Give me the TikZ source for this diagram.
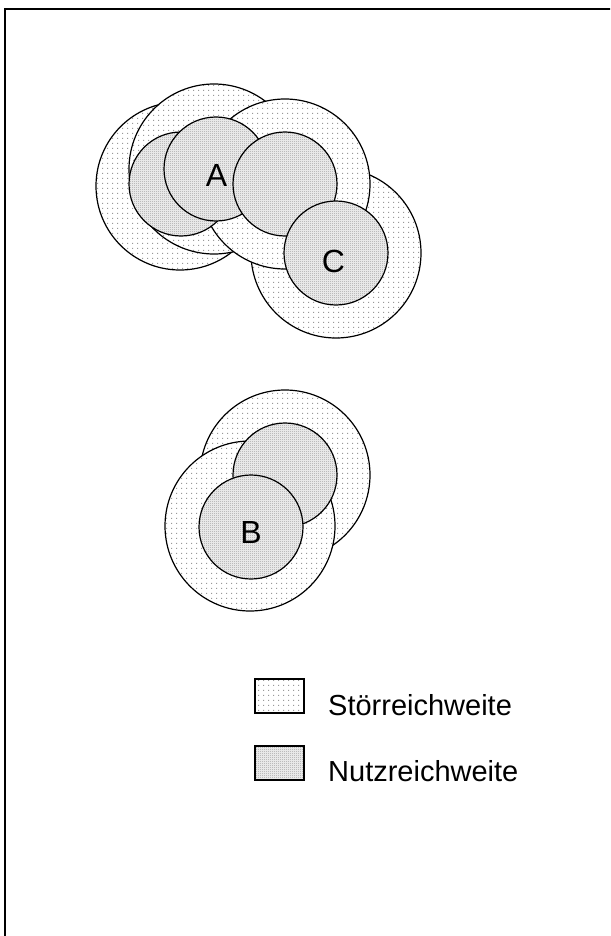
\documentclass[tikz,border=0pt]{standalone}
\usepackage{fontspec}
\setmainfont{Liberation Sans}
\usetikzlibrary{patterns.meta}

% sparse grey dot grid for the interference range
\tikzdeclarepattern{
  name=stoerdots,
  bottom left={(0pt,0pt)},
  top right={(4.6pt,4.6pt)},
  tile size={(4.6pt,4.6pt)},
  code={\fill (0pt,0pt) rectangle (1.3pt,1.3pt);}
}
% dense dot grid for the usable range
\tikzdeclarepattern{
  name=nutzdots,
  bottom left={(0pt,0pt)},
  top right={(2pt,2pt)},
  tile size={(2pt,2pt)},
  code={\fill (0pt,0pt) rectangle (1pt,1pt);}
}

\tikzset{
  stoer/.style={draw=black, line width=1.2pt, preaction={fill=white},
                pattern=stoerdots, pattern color=black!40},
  nutz/.style={draw=black, line width=1.2pt, preaction={fill=black!9},
                pattern=nutzdots, pattern color=black!50},
  label/.style={inner sep=0pt, font=\fontsize{32}{38}\selectfont},
  legtext/.style={inner sep=0pt, anchor=base west, font=\fontsize{29}{34}\selectfont},
  legbox/.style={line width=1.6pt}
}

\begin{document}
\begin{tikzpicture}[x=1pt, y=-1pt]
  \useasboundingbox (0,0) rectangle (610,936);
  \clip (0,0) rectangle (610,936);
  \fill[white] (0,0) rectangle (610,936);

  % frame
  \draw[line width=2pt] (5,945) -- (5,9) -- (620,9);

  % cluster A / C: interference ranges
  \path[stoer] (180,186) circle[radius=84];
  \path[stoer] (214,169) circle[radius=85];
  \path[stoer] (336,253) circle[radius=85];
  \path[stoer] (285,184) circle[radius=85];
  % cluster A / C: usable ranges
  \path[nutz] (181,184) circle[radius=52];
  \path[nutz] (216,169) circle[radius=52];
  \path[nutz] (285,184) circle[radius=52];
  \path[nutz] (336,253) circle[radius=52];

  % cluster B
  \path[stoer] (285,475) circle[radius=85];
  \path[stoer] (250,526) circle[radius=85];
  \path[nutz] (285,475) circle[radius=52];
  \path[nutz] (251,527) circle[radius=52];

  \node[label] (lblA) at (216.5,175.5) {A};
  \node[label] (lblC) at (333.5,261.5) {C};
  \node[label] (lblB) at (251,532) {B};

  % legend
  \path[stoer, legbox] (255,679) rectangle (304,713);
  \path[nutz, legbox] (255,746) rectangle (304,780);
  \node[legtext] (legS) at (328,715) {Störreichweite};
  \node[legtext] (legN) at (328,781) {Nutzreichweite};
\end{tikzpicture}
\end{document}
